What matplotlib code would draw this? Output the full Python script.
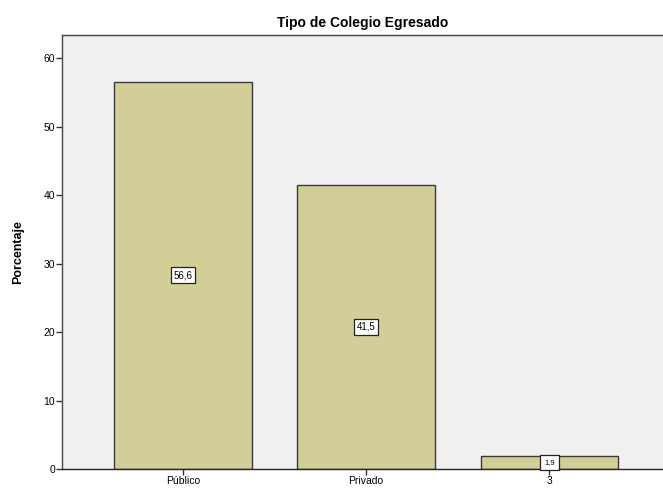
import matplotlib
matplotlib.use("Agg")
from matplotlib import pyplot as plt

categorias = ["Público", "Privado", "3"]
porcentajes = [56.6, 41.5, 1.9]
etiquetas = ["56,6", "41,5", "1,9"]
yticks = [0, 10, 20, 30, 40, 50, 60]

plt.rcParams["font.family"] = ["Liberation Sans", "DejaVu Sans"]

fig = plt.figure(figsize=(6.63, 4.92), dpi=100)
fig.patch.set_facecolor("white")
# axes box in pixel terms: left 62, right 663, top 35, bottom 469
ax = fig.add_axes([62 / 663, 1 - 469 / 492, (663 - 62) / 663, (469 - 35) / 492])
ax.set_facecolor("#F0F0F0")

x = list(range(len(categorias)))
ax.bar(x, porcentajes, width=0.75, color="#D3CE98", edgecolor="#3a3a3a", linewidth=1.0, zorder=2)

for xi, val, txt in zip(x, porcentajes, etiquetas):
    if val > 5:
        ax.text(xi, val / 2, txt, ha="center", va="center", fontsize=7, zorder=3,
                bbox=dict(boxstyle="square,pad=0.3", fc="white", ec="#222222", lw=0.9))
    else:
        # small bar: box is taller than the bar itself
        ax.text(xi, val / 2, txt, ha="center", va="center", fontsize=5.5, zorder=3,
                clip_on=False,
                bbox=dict(boxstyle="square,pad=0.55", fc="white", ec="#222222", lw=0.9))

ax.set_xlim(-0.66, 2.62)
ax.set_ylim(0, 63.4)
ax.set_xticks(x)
ax.set_xticklabels(categorias, fontsize=7.5)
ax.set_yticks(yticks)
ax.set_yticklabels([str(t) for t in yticks], fontsize=7.5)
ax.tick_params(axis="both", length=4, width=1, color="#333333", pad=1)

for s in ["left", "top", "bottom"]:
    ax.spines[s].set_color("#444444")
    ax.spines[s].set_linewidth(1.0)
ax.spines["bottom"].set_color("#222222")
ax.spines["right"].set_visible(False)

ax.set_ylabel("Porcentaje", fontsize=9, fontweight="bold", labelpad=14)
ax.set_title("Tipo de Colegio Egresado", fontsize=10, fontweight="bold", pad=6)

fig.savefig("out.png", dpi=100)
